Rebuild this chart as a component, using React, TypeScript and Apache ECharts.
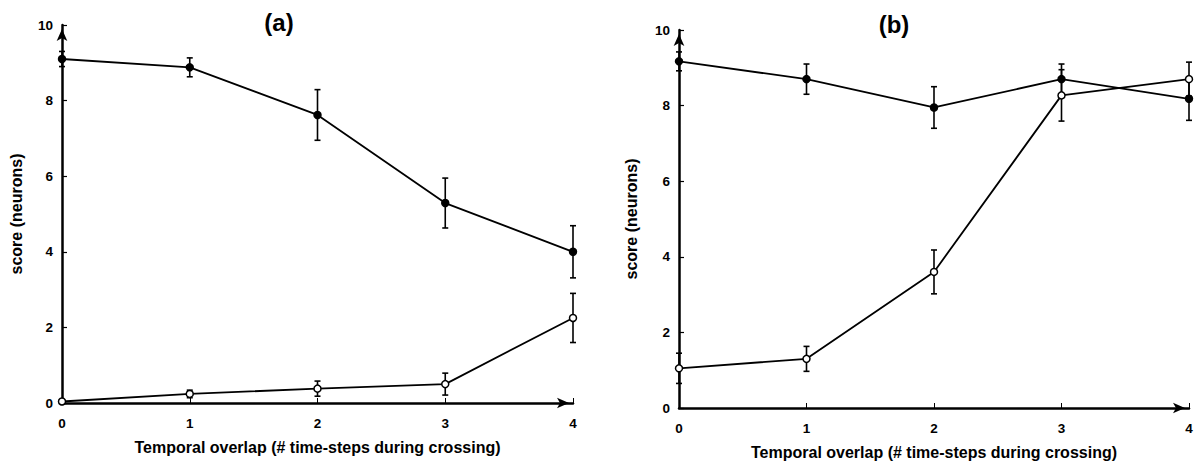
import React, { useEffect, useRef } from "react";
import * as echarts from "echarts";

const X = [0, 1, 2, 3, 4];
const xTicks = ["0", "1", "2", "3", "4"];
const aFilled = [9.1, 8.88, 7.62, 5.29, 4.0];
const aFilledErr = [0.2, 0.25, 0.67, 0.66, 0.69];
const aOpen = [0.04, 0.24, 0.38, 0.5, 2.25];
const aOpenErr = [0.05, 0.1, 0.2, 0.29, 0.65];
const bFilled = [9.17, 8.7, 7.95, 8.7, 8.18];
const bFilledErr = [0.25, 0.4, 0.55, 0.4, 0.57];
const bOpen = [1.05, 1.3, 3.6, 8.27, 8.7];
const bOpenErr = [0.4, 0.33, 0.58, 0.68, 0.45];
const panelTitles = ["(a)", "(b)"];
const xName = "Temporal overlap (# time-steps during crossing)";
const yName = "score (neurons)";

const FONT = "Liberation Sans, Arial, sans-serif";

function errSeries(vals: number[], errs: number[], idx: number) {
  return {
    type: "custom",
    xAxisIndex: idx,
    yAxisIndex: idx,
    z: 3,
    silent: true,
    data: X.map((x, i) => [x, vals[i] - errs[i], vals[i] + errs[i]]),
    renderItem: (params: any, api: any) => {
      const x = api.value(0);
      const lo = api.coord([x, api.value(1)]);
      const hi = api.coord([x, api.value(2)]);
      const w = 3;
      const st = { stroke: "#000", lineWidth: 1.6 };
      return {
        type: "group",
        children: [
          { type: "line", shape: { x1: lo[0], y1: lo[1], x2: hi[0], y2: hi[1] }, style: st },
          { type: "line", shape: { x1: lo[0] - w, y1: lo[1], x2: lo[0] + w, y2: lo[1] }, style: st },
          { type: "line", shape: { x1: hi[0] - w, y1: hi[1], x2: hi[0] + w, y2: hi[1] }, style: st },
        ],
      };
    },
  };
}

function lineSeries(vals: number[], idx: number, filled: boolean) {
  return {
    type: "line",
    xAxisIndex: idx,
    yAxisIndex: idx,
    z: 4,
    data: X.map((x, i) => [x, vals[i]]),
    symbol: "circle",
    symbolSize: 7,
    showAllSymbol: true,
    clip: false,
    lineStyle: { color: "#000", width: 1.8 },
    itemStyle: { color: filled ? "#000" : "#fff", borderColor: "#000", borderWidth: 1.5 },
  };
}

function xAxis(idx: number) {
  return {
    type: "value",
    gridIndex: idx,
    min: 0,
    max: 4,
    interval: 1,
    name: xName,
    nameLocation: "middle",
    nameGap: 36,
    nameTextStyle: { fontFamily: FONT, fontSize: 16, fontWeight: "bold", color: "#000" },
    axisLine: {
      show: true,
      symbol: ["none", "arrow"],
      symbolSize: [8, 12],
      symbolOffset: [0, -4],
      lineStyle: { color: "#000", width: 2.5 },
    },
    axisTick: { show: true, inside: true, length: 5, lineStyle: { color: "#000", width: 1 } },
    axisLabel: {
      fontFamily: FONT,
      fontSize: 13.5,
      fontWeight: "bold",
      color: "#000",
      margin: 13,
      formatter: (v: number) => xTicks[Math.round(v)] ?? "",
    },
    splitLine: { show: false },
  };
}

function yAxis(idx: number, gap: number) {
  return {
    type: "value",
    gridIndex: idx,
    min: 0,
    max: 10,
    interval: 2,
    name: yName,
    nameLocation: "middle",
    nameGap: gap,
    nameTextStyle: { fontFamily: FONT, fontSize: 16, fontWeight: "bold", color: "#000" },
    axisLine: {
      show: true,
      symbol: ["none", "arrow"],
      symbolSize: [8, 12],
      symbolOffset: [0, -4],
      lineStyle: { color: "#000", width: 2.5 },
    },
    axisTick: { show: true, inside: true, length: 5, lineStyle: { color: "#000", width: 1.2 } },
    axisLabel: {
      fontFamily: FONT,
      fontSize: 13.5,
      fontWeight: "bold",
      color: "#000",
      margin: 9,
    },
    splitLine: { show: false },
  };
}

export default function App() {
  const ref = useRef<HTMLDivElement>(null);
  useEffect(() => {
    if (!ref.current) return;
    const chart = echarts.init(ref.current, null, { renderer: "svg" });
    chart.setOption({
      animation: false,
      backgroundColor: "#fff",
      grid: [
        { left: 62, right: 1197 - 573, top: 25, bottom: 466 - 403 },
        { left: 679, right: 1197 - 1189, top: 30, bottom: 466 - 408 },
      ],
      xAxis: [xAxis(0), xAxis(1)],
      yAxis: [yAxis(0, 38), yAxis(1, 40)],
      graphic: [
        {
          type: "text",
          x: 279,
          y: 22,
          style: {
            text: panelTitles[0],
            fontFamily: FONT,
            fontSize: 24,
            fontWeight: "bold",
            fill: "#000",
            align: "center",
            verticalAlign: "middle",
          },
        },
        {
          type: "text",
          x: 894,
          y: 24,
          style: {
            text: panelTitles[1],
            fontFamily: FONT,
            fontSize: 24,
            fontWeight: "bold",
            fill: "#000",
            align: "center",
            verticalAlign: "middle",
          },
        },
      ],
      series: [
        errSeries(aFilled, aFilledErr, 0),
        errSeries(aOpen, aOpenErr, 0),
        lineSeries(aFilled, 0, true),
        lineSeries(aOpen, 0, false),
        errSeries(bFilled, bFilledErr, 1),
        errSeries(bOpen, bOpenErr, 1),
        lineSeries(bFilled, 1, true),
        lineSeries(bOpen, 1, false),
      ],
    });
    return () => chart.dispose();
  }, []);
  return (
    <div
      ref={ref}
      style={{ position: "fixed", left: 0, top: 0, width: 1197, height: 466, background: "#fff" }}
    />
  );
}
